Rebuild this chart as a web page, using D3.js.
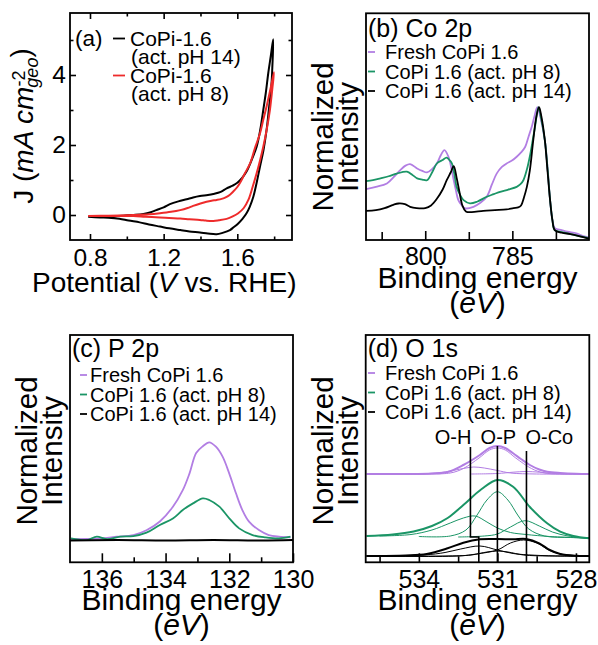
<!DOCTYPE html>
<html>
<head>
<meta charset="utf-8">
<script src="https://cdn.jsdelivr.net/npm/d3@7"></script>
<style>
  body { margin: 0; background: #fff; }
  svg { display: block; font-family: "Liberation Sans", Arial, Helvetica, sans-serif; }
</style>
</head>
<body>
<svg id="fig" width="598" height="645"></svg>
<script>
// ---------------- data ----------------
// (a) cyclic voltammograms: [potential V vs RHE, J mA cm^-2], forward then reverse sweep
const cvPH14 = [[0.79,-0.05],[0.86,-0.04],[0.95,-0.03],[1.03,0.0],[1.09,0.03],[1.13,0.08],[1.16,0.14],[1.20,0.22],[1.234,0.31],[1.28,0.39],[1.325,0.45],[1.36,0.50],[1.397,0.54],[1.44,0.57],[1.47,0.60],[1.51,0.66],[1.542,0.76],[1.575,0.84],[1.6,0.92],[1.625,1.05],[1.65,1.24],[1.68,1.60],[1.705,1.95],[1.725,2.45],[1.741,3.0],[1.755,3.5],[1.768,4.05],[1.782,4.55],[1.795,5.02],
  [1.79,4.2],[1.786,3.76],[1.772,3.05],[1.759,2.43],[1.742,1.85],[1.723,1.38],[1.705,0.92],[1.687,0.52],[1.668,0.24],[1.65,0.05],[1.628,-0.11],[1.605,-0.24],[1.58,-0.35],[1.56,-0.43],[1.52,-0.51],[1.488,-0.55],[1.44,-0.53],[1.397,-0.50],[1.34,-0.47],[1.29,-0.43],[1.23,-0.38],[1.18,-0.33],[1.12,-0.27],[1.07,-0.21],[1.01,-0.16],[0.96,-0.11],[0.9,-0.08],[0.855,-0.07],[0.79,-0.05]];
const cvPH8 = [[0.79,-0.03],[0.9,-0.02],[1.036,0.0],[1.12,0.02],[1.18,0.05],[1.24,0.09],[1.29,0.14],[1.33,0.20],[1.36,0.26],[1.40,0.33],[1.433,0.38],[1.46,0.41],[1.488,0.43],[1.515,0.46],[1.542,0.52],[1.56,0.58],[1.578,0.67],[1.6,0.80],[1.615,0.92],[1.64,1.18],[1.67,1.48],[1.695,1.9],[1.723,2.33],[1.74,2.7],[1.759,3.1],[1.78,3.6],[1.799,4.08],
  [1.79,3.6],[1.777,3.0],[1.76,2.45],[1.741,1.95],[1.723,1.55],[1.705,1.19],[1.683,0.80],[1.66,0.43],[1.635,0.2],[1.605,0.05],[1.575,-0.04],[1.542,-0.11],[1.5,-0.15],[1.47,-0.17],[1.43,-0.16],[1.397,-0.14],[1.34,-0.12],[1.29,-0.10],[1.23,-0.085],[1.18,-0.07],[1.1,-0.05],[1.036,-0.03],[0.9,-0.03],[0.79,-0.03]];
const cvXTicks = [0.8, 1.2, 1.6];
const cvXMinor = [1.0, 1.4, 1.8];
const cvYTicks = [0, 2, 4];
const cvYMinor = [1, 3, 5];
const cvLegend = [["CoPi-1.6", "(act. pH 14)"], ["CoPi-1.6", "(act. pH 8)"]];

// (b) Co 2p: [binding energy eV, normalized intensity]
const co2pFresh = [[810.2,0.383],[808.5,0.40],[806.6,0.426],[805.3,0.48],[804.3,0.526],[803.4,0.56],[802.6,0.571],[801.4,0.539],[800.5,0.52],[799.7,0.509],[798.8,0.535],[798,0.576],[797.3,0.64],[796.7,0.677],[796,0.627],[795.5,0.54],[795.1,0.451],[794.7,0.37],[794.3,0.30],[793.7,0.26],[793.1,0.238],[791.7,0.25],[790.5,0.28],[789.4,0.326],[788.5,0.42],[787.7,0.50],[786.8,0.55],[786,0.576],[785,0.60],[784.25,0.627],[783.5,0.66],[782.8,0.70],[782.2,0.78],[781.67,0.85],[781.2,0.93],[780.7,1.0],[780.2,0.93],[779.4,0.75],[778.9,0.52],[778.5,0.30],[778.1,0.15],[777.7,0.09],[776.5,0.075],[775.5,0.063],[774,0.05],[772.8,0.03],[771.8,0.02]];
const co2pPH8 = [[810.2,0.444],[809,0.45],[807.7,0.464],[806.3,0.48],[804.9,0.50],[803.15,0.514],[802.2,0.49],[801.4,0.464],[800.5,0.455],[799.7,0.45],[798.8,0.51],[798,0.576],[797.1,0.60],[796.3,0.62],[795.8,0.60],[795.4,0.576],[795,0.50],[794.6,0.40],[794,0.34],[793.4,0.30],[792.3,0.276],[791,0.29],[789.4,0.326],[788.2,0.345],[787.1,0.363],[785.7,0.38],[784.25,0.40],[783.6,0.42],[783.1,0.45],[782.5,0.53],[782,0.627],[781.5,0.75],[781.1,0.85],[780.5,1.0],[780.1,0.93],[779.4,0.75],[778.9,0.52],[778.5,0.30],[778.1,0.15],[777.7,0.075],[776.5,0.06],[775,0.045],[773.5,0.03],[771.8,0.013]];
const co2pPH14 = [[810.2,0.22],[808.5,0.225],[807,0.24],[805.5,0.265],[804.6,0.275],[803.5,0.27],[802.6,0.25],[801.5,0.24],[800,0.24],[799,0.26],[798,0.31],[797,0.38],[796.3,0.45],[795.6,0.51],[795.1,0.556],[794.6,0.47],[794.1,0.36],[793.6,0.26],[793,0.215],[792,0.21],[790,0.22],[788,0.225],[786,0.23],[784.8,0.24],[784,0.245],[783.5,0.26],[783,0.32],[782.5,0.40],[782,0.52],[781.4,0.75],[780.9,0.92],[780.4,1.0],[780.0,0.93],[779.4,0.75],[779.0,0.55],[778.5,0.30],[778.1,0.15],[777.7,0.075],[776.5,0.055],[775,0.045],[773.5,0.03],[771.8,0.01]];
const co2pTicks = [800, 785];
const co2pMinor = [807.5, 792.5, 777.5];

// (c) P 2p
const p2pFresh = [[136.97,0.01],[136.05,0.017],[135.53,0.034],[135.01,0.05],[134.6,0.10],[134.18,0.19],[133.77,0.34],[133.46,0.51],[133.25,0.68],[133.04,0.89],[132.83,0.96],[132.63,1.0],[132.42,0.955],[132.21,0.853],[132.0,0.68],[131.79,0.478],[131.59,0.307],[131.38,0.188],[131.07,0.102],[130.76,0.051],[130.44,0.034],[130.08,0.027]];
const p2pPH8 = [[136.97,0.017],[136.47,0.0],[136.16,0.034],[135.84,0.01],[135.43,0.034],[135.01,0.04],[134.6,0.075],[134.18,0.154],[133.77,0.22],[133.46,0.307],[133.14,0.375],[132.83,0.426],[132.63,0.41],[132.31,0.341],[132.0,0.222],[131.69,0.119],[131.27,0.051],[130.86,0.027],[130.44,0.017],[130.08,0.034]];
const p2pPH14 = [[137,-0.005],[135.5,0.0],[134,-0.005],[132.5,0.0],[131,-0.005],[130,0.0]];
const p2pTicks = [136, 134, 132, 130];
const p2pMinor = [135, 133, 131];

// (d) O 1s: envelopes and fitted components, stacked with offsets
const o1sFreshEnv = [[536.0,0.82],[534.5,0.82],[533.5,0.825],[532.9,0.84],[532.3,0.91],[531.67,1.01],[531.3,1.08],[531.0,1.10],[530.7,1.08],[530.4,1.027],[530.1,0.97],[529.76,0.91],[529.4,0.865],[529.1,0.843],[528.6,0.83],[528.0,0.822],[527.5,0.82]];
const o1sFreshOP = [[534,0.82],[532.8,0.83],[532.3,0.875],[531.7,0.98],[531.3,1.06],[531.0,1.08],[530.7,1.06],[530.3,0.98],[529.7,0.875],[529.2,0.83],[528,0.82],[527.5,0.82]];
const o1sFreshOH = [[534.5,0.82],[533.3,0.83],[532.7,0.855],[532.2,0.88],[531.9,0.89],[531.5,0.88],[531.0,0.855],[530.5,0.83],[529.5,0.82],[527.5,0.82]];
const o1sFreshOCo = [[532,0.82],[531,0.825],[530.4,0.838],[529.9,0.845],[529.4,0.838],[528.8,0.825],[527.5,0.82]];
const o1sPH8Env = [[536,0.2],[535,0.215],[534.2,0.245],[533.5,0.3],[532.9,0.38],[532.3,0.51],[531.6,0.67],[531.0,0.76],[530.4,0.693],[529.76,0.49],[529.1,0.327],[528.6,0.243],[528.1,0.2],[527.5,0.177]];
const o1sPH8OP = [[534,0.195],[532.8,0.2],[532.2,0.26],[531.8,0.40],[531.4,0.56],[531.0,0.643],[530.6,0.56],[530.2,0.40],[529.8,0.27],[529.2,0.2],[528.2,0.185],[527.5,0.178]];
const o1sPH8OH = [[535.5,0.2],[534.3,0.215],[533.5,0.26],[532.8,0.33],[532.3,0.38],[531.85,0.40],[531.4,0.34],[531.0,0.28],[530.5,0.235],[529.9,0.215],[529,0.195],[527.5,0.18]];
const o1sPH8OCo = [[532.5,0.19],[531.5,0.2],[531,0.22],[530.5,0.29],[529.95,0.353],[529.4,0.30],[528.9,0.24],[528.3,0.2],[527.5,0.178]];
const o1sPH14Env = [[536,0],[534.5,0.005],[533.7,0.02],[532.9,0.077],[532.3,0.133],[531.67,0.167],[531.0,0.17],[530.4,0.167],[529.9,0.17],[529.4,0.127],[529.0,0.06],[528.6,0.02],[528.0,0.002],[527.5,0]];
const o1sPH14OH = [[536,0],[533.8,0.01],[533,0.035],[532.4,0.07],[531.67,0.10],[531.0,0.06],[530.4,0.025],[529.6,0.008],[528.5,0],[527.5,0]];
const o1sPH14OCo = [[536,0],[532.5,0],[531.8,0.02],[531.0,0.06],[530.5,0.13],[530.0,0.16],[529.5,0.13],[529.0,0.055],[528.5,0.015],[527.5,0]];
const o1sPH14OP = [[536,0],[533,0],[532,0.01],[531.4,0.04],[531.0,0.05],[530.6,0.04],[530,0.01],[529,0],[527.5,0]];
const o1sTicks = [534, 531, 528];
const o1sMinor = [535.5, 532.5, 529.5];
// bond markers: label, energy of upper segment, energy of lower segment, top intensity, step intensity
const o1sMarkers = [
  { label: "O-H", upper: 532.03, lower: 531.71, top: 1.09, step: 0.19, anchor: "end" },
  { label: "O-P", upper: 531.0, lower: 531.0, top: 1.10, step: 0.5, anchor: "middle" },
  { label: "O-Co", upper: 529.89, lower: 529.89, top: 1.05, step: 0.5, anchor: "start" }
];

const xpsLegend = ["Fresh CoPi 1.6", "CoPi 1.6 (act. pH 8)", "CoPi 1.6 (act. pH 14)"];
const xpsColors = ["#b27ee3", "#1b9566", "#000000"];
const cvColors = ["#000000", "#ee2b2b"];

// ---------------- drawing ----------------
const svg = d3.select("#fig");

function panel(id, box, xDomain, yDomain) {
  const x = d3.scaleLinear().domain(xDomain).range([box.left, box.right]);
  const y = d3.scaleLinear().domain(yDomain).range([box.bottom, box.top]);
  svg.append("clipPath").attr("id", "clip-" + id)
    .append("rect").attr("x", box.left).attr("y", box.top)
    .attr("width", box.right - box.left).attr("height", box.bottom - box.top);
  const g = svg.append("g");
  const plot = g.append("g").attr("clip-path", `url(#clip-${id})`);
  return { x, y, g, plot, box };
}

function styleAxis(sel, fontSize) {
  sel.select(".domain").remove();
  sel.selectAll(".tick line").attr("stroke", "#000").attr("stroke-width", 1.6);
  sel.selectAll(".tick text").attr("fill", "#000").style("font-size", fontSize + "px")
    .style("font-family", '"Liberation Sans", Arial, sans-serif');
}

function drawFrame(p) {
  const b = p.box;
  p.g.append("rect").attr("x", b.left).attr("y", b.top)
    .attr("width", b.right - b.left).attr("height", b.bottom - b.top)
    .attr("fill", "none").attr("stroke", "#000").attr("stroke-width", 1.8);
}

function bottomAxis(p, majors, minors, fmt, majorLen, minorLen, pad, fs) {
  p.g.append("g").attr("transform", `translate(0,${p.box.bottom})`)
    .call(d3.axisBottom(p.x).tickValues(minors).tickSize(-minorLen).tickFormat(""))
    .call(s => styleAxis(s, fs));
  p.g.append("g").attr("transform", `translate(0,${p.box.bottom})`)
    .call(d3.axisBottom(p.x).tickValues(majors).tickSize(-majorLen).tickPadding(pad).tickFormat(fmt))
    .call(s => styleAxis(s, fs));
}

function lineOf(p) {
  return d3.line().x(d => p.x(d[0])).y(d => p.y(d[1])).curve(d3.curveCatmullRom.alpha(0.5));
}

function yLabel2(p, cx, cy, fs) {
  const t = p.g.append("text").attr("transform", `translate(${cx},${cy}) rotate(-90)`)
    .attr("text-anchor", "middle").style("font-size", fs + "px");
  t.append("tspan").attr("x", 0).attr("y", 0).text("Normalized");
  t.append("tspan").attr("x", 0).attr("y", 25).text("Intensity");
}

function xLabelEnergy(p, fs) {
  const cx = (p.box.left + p.box.right) / 2;
  p.g.append("text").attr("x", cx).attr("y", p.box.bottom + 48)
    .attr("text-anchor", "middle").style("font-size", fs + "px").text("Binding energy");
  const t = p.g.append("text").attr("x", cx).attr("y", p.box.bottom + 73)
    .attr("text-anchor", "middle").style("font-size", fs + "px");
  t.append("tspan").text("(");
  t.append("tspan").style("font-style", "italic").text("eV");
  t.append("tspan").text(")");
}

function xpsLegendBlock(p, title, titleY, rowsY, dashX0, dashX1, textX) {
  p.g.append("text").attr("x", p.box.left + 2).attr("y", titleY)
    .style("font-size", "25px").text(title);
  xpsLegend.forEach((lab, i) => {
    const yy = rowsY + i * 19.5;
    p.g.append("line").attr("x1", dashX0).attr("x2", dashX1)
      .attr("y1", yy - 7).attr("y2", yy - 7)
      .attr("stroke", xpsColors[i]).attr("stroke-width", 1.8);
    p.g.append("text").attr("x", textX).attr("y", yy)
      .style("font-size", "20px").text(lab);
  });
}

// ---- (a) CV ----
{
  const p = panel("a", { left: 70, right: 292, top: 13, bottom: 240 }, [0.6914, 1.897], [-0.714, 5.771]);
  const line = lineOf(p);
  [cvPH14, cvPH8].forEach((s, i) => {
    p.plot.append("path").datum(s).attr("d", line).attr("fill", "none")
      .attr("stroke", cvColors[i]).attr("stroke-width", 2);
  });
  drawFrame(p);
  const fs = 24.5;
  bottomAxis(p, cvXTicks, cvXMinor, d3.format(".1f"), 6, 3.5, 8.5, fs);
  // mirrored ticks on top
  p.g.append("g").attr("transform", `translate(0,${p.box.top})`)
    .call(d3.axisTop(p.x).tickValues(cvXTicks).tickSize(-6).tickFormat("")).call(s => styleAxis(s, fs));
  p.g.append("g").attr("transform", `translate(0,${p.box.top})`)
    .call(d3.axisTop(p.x).tickValues(cvXMinor).tickSize(-3.5).tickFormat("")).call(s => styleAxis(s, fs));
  // left axis with labels, right mirrored
  p.g.append("g").attr("transform", `translate(${p.box.left},0)`)
    .call(d3.axisLeft(p.y).tickValues(cvYTicks).tickSize(-6).tickPadding(4).tickFormat(d3.format("d")))
    .call(s => styleAxis(s, fs));
  p.g.append("g").attr("transform", `translate(${p.box.left},0)`)
    .call(d3.axisLeft(p.y).tickValues(cvYMinor).tickSize(-3.5).tickFormat("")).call(s => styleAxis(s, fs));
  p.g.append("g").attr("transform", `translate(${p.box.right},0)`)
    .call(d3.axisRight(p.y).tickValues(cvYTicks).tickSize(-6).tickFormat("")).call(s => styleAxis(s, fs));
  p.g.append("g").attr("transform", `translate(${p.box.right},0)`)
    .call(d3.axisRight(p.y).tickValues(cvYMinor).tickSize(-3.5).tickFormat("")).call(s => styleAxis(s, fs));

  // x label
  const xl = p.g.append("text").attr("x", 32).attr("y", 291.5).style("font-size", "28px");
  xl.append("tspan").text("Potential (");
  xl.append("tspan").style("font-style", "italic").text("V");
  xl.append("tspan").text(" vs. RHE)");

  // y label
  const yl = p.g.append("text").attr("transform", "translate(33,126) rotate(-90)")
    .attr("text-anchor", "middle").style("font-size", "28px");
  yl.append("tspan").text("J (");
  yl.append("tspan").style("font-style", "italic").text("mA cm");
  yl.append("tspan").attr("dy", "-0.45em").style("font-size", "18px").text("-2");
  yl.append("tspan").attr("dx", "-0.95em").attr("dy", "0.75em").style("font-size", "18px")
    .style("font-style", "italic").text("geo");
  yl.append("tspan").attr("dy", "-0.3em").text(")");

  // legend
  p.g.append("text").attr("x", 75).attr("y", 46).style("font-size", "22.5px").text("(a)");
  const rows = [[46, 64], [83, 101]];
  cvLegend.forEach((lab, i) => {
    p.g.append("line").attr("x1", 113).attr("x2", 125)
      .attr("y1", rows[i][0] - 7.5).attr("y2", rows[i][0] - 7.5)
      .attr("stroke", cvColors[i]).attr("stroke-width", 1.8);
    p.g.append("text").attr("x", 130).attr("y", rows[i][0]).style("font-size", "21px").text(lab[0]);
    p.g.append("text").attr("x", 131).attr("y", rows[i][1]).style("font-size", "21px").text(lab[1]);
  });
}

// ---- (b) Co 2p ----
{
  const p = panel("b", { left: 366, right: 589, top: 13.3, bottom: 240 }, [810.2, 771.8], [0, 1.707]);
  const line = lineOf(p);
  [co2pFresh, co2pPH8, co2pPH14].forEach((s, i) => {
    p.plot.append("path").datum(s).attr("d", line).attr("fill", "none")
      .attr("stroke", xpsColors[i]).attr("stroke-width", 1.8);
  });
  drawFrame(p);
  bottomAxis(p, co2pTicks, co2pMinor, d3.format("d"), 9, 8, 7, 25);
  yLabel2(p, 333, 137, 29.5);
  xLabelEnergy(p, 30);
  xpsLegendBlock(p, "(b) Co 2p", 37, 59, 368, 375, 385);
}

// ---- (c) P 2p ----
{
  const p = panel("c", { left: 70, right: 293, top: 335, bottom: 562.3 }, [137, 130], [-0.228, 2.098]);
  const line = lineOf(p);
  [p2pFresh, p2pPH8, p2pPH14].forEach((s, i) => {
    p.plot.append("path").datum(s).attr("d", line).attr("fill", "none")
      .attr("stroke", xpsColors[i]).attr("stroke-width", 1.8);
  });
  drawFrame(p);
  bottomAxis(p, p2pTicks, p2pMinor, d3.format("d"), 9, 5, 8, 25);
  yLabel2(p, 37, 451, 29.5);
  xLabelEnergy(p, 30);
  xpsLegendBlock(p, "(c) P 2p", 357, 382, 80, 87, 90);
}

// ---- (d) O 1s ----
{
  const p = panel("d", { left: 365.7, right: 589.3, top: 335, bottom: 562.3 }, [536.03, 527.49], [-0.063, 2.21]);
  const line = lineOf(p);
  const sets = [
    [o1sFreshEnv, o1sFreshOP, o1sFreshOH, o1sFreshOCo],
    [o1sPH8Env, o1sPH8OP, o1sPH8OH, o1sPH8OCo],
    [o1sPH14Env, o1sPH14OH, o1sPH14OCo, o1sPH14OP]
  ];
  sets.forEach((set, i) => {
    set.forEach((s, j) => {
      p.plot.append("path").datum(s).attr("d", line).attr("fill", "none")
        .attr("stroke", xpsColors[i]).attr("stroke-width", j === 0 ? 2 : 1);
    });
  });
  // bond markers
  o1sMarkers.forEach(m => {
    const pts = [[m.upper, m.top], [m.upper, m.step], [m.lower, m.step], [m.lower, -0.063]];
    p.g.append("path").datum(pts)
      .attr("d", d3.line().x(d => p.x(d[0])).y(d => p.y(d[1])))
      .attr("fill", "none").attr("stroke", "#000").attr("stroke-width", 1.6);
    const lx = p.x(m.upper) + (m.anchor === "end" ? 1 : m.anchor === "start" ? -1 : 1);
    p.g.append("text").attr("x", lx).attr("y", 443.5).attr("text-anchor", m.anchor)
      .style("font-size", "20px").text(m.label);
  });
  drawFrame(p);
  bottomAxis(p, o1sTicks, o1sMinor, d3.format("d"), 9, 6, 8, 25);
  yLabel2(p, 333, 451, 29.5);
  xLabelEnergy(p, 30);
  xpsLegendBlock(p, "(d) O 1s", 357, 380, 368, 375, 385);
}
</script>
</body>
</html>
